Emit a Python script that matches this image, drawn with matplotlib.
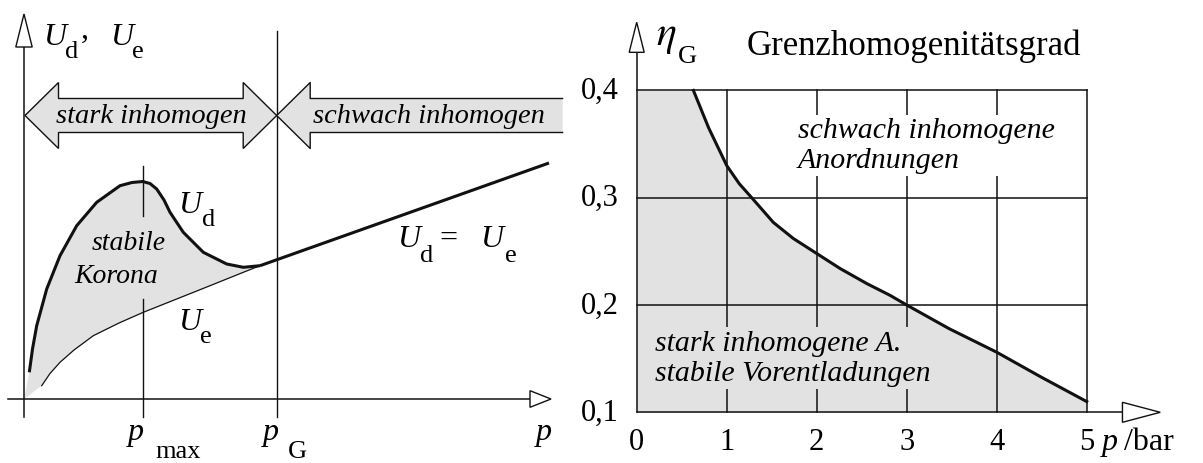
import numpy as np
import matplotlib.pyplot as plt
from matplotlib.patches import Polygon

plt.rcParams['font.family'] = ['Liberation Serif', 'DejaVu Serif']
plt.rcParams['mathtext.fontset'] = 'stix'

INK = '#111111'
SHADE = '#e2e2e2'

# linkes Bild: Durchschlagspannung U_d und Einsatzspannung U_e ueber p (schematisch)
P_MAX = 1.187
P_G = 2.527
ud_p = [0.053, 0.085, 0.127, 0.227, 0.36, 0.527, 0.727, 0.96, 1.08, 1.187, 1.26, 1.327,
        1.40, 1.46, 1.593, 1.793, 2.027, 2.193, 2.36]
ud_u = [0.267, 0.50, 0.733, 1.10, 1.433, 1.733, 1.967, 2.133, 2.165, 2.175, 2.155, 2.10,
        1.99, 1.867, 1.667, 1.467, 1.35, 1.317, 1.333]
ue_p = [0.177, 0.26, 0.36, 0.50, 0.693, 0.95, 1.193, 1.527, 1.86, 2.193, 2.36]
ue_u = [0.133, 0.255, 0.367, 0.49, 0.633, 0.76, 0.867, 1.0, 1.133, 1.267, 1.333]
gl_p = [2.36, 5.25]
gl_u = [1.333, 2.36]

# rechtes Bild: Grenzhomogenitaetsgrad ueber Druck
p_bar = [0.63, 0.80, 1.00, 1.14, 1.278, 1.518, 1.74, 2.00, 2.26, 2.556, 2.815, 3.00,
         3.47, 4.00, 4.49, 5.00]
eta_g = [0.400, 0.365, 0.330, 0.313, 0.300, 0.277, 0.262, 0.248, 0.234, 0.220, 0.209,
         0.200, 0.178, 0.156, 0.133, 0.110]
p_ticks = [0, 1, 2, 3, 4, 5]
eta_ticks = [0.1, 0.2, 0.3, 0.4]
eta_labels = ['0,1', '0,2', '0,3', '0,4']


def head(ax, tip, base, half):
    # offene Pfeilspitze, Breite in Pixeln
    t = ax.transData.transform(tip)
    b = ax.transData.transform(base)
    d = t - b
    n = np.array([-d[1], d[0]]) / np.hypot(*d) * half
    pts = ax.transData.inverted().transform([t, b + n, b - n])
    ax.add_patch(Polygon(pts, closed=True, fc='white', ec=INK, lw=1.0, zorder=6))


fig = plt.figure(figsize=(12.03, 4.64), dpi=100)
axL = fig.add_axes([0, 0, 570 / 1203, 1])
axR = fig.add_axes([570 / 1203, 0, 633 / 1203, 1])
axL.set_xlim(-0.24, 5.46)
axL.set_ylim(-0.64, 4.0)
axR.set_xlim(-0.741, 6.292)
axR.set_ylim(0.05275, 0.4852)
for ax in (axL, axR):
    ax.set_axis_off()

# ---- links ----
poly_x = [0] + ud_p + ue_p[::-1]
poly_y = [0] + ud_u + ue_u[::-1]
axL.fill(poly_x, poly_y, color=SHADE, lw=0, zorder=1)
axL.plot(ud_p, ud_u, color=INK, lw=2.2, solid_capstyle='butt', zorder=4)
axL.plot(ue_p, ue_u, color=INK, lw=0.9, zorder=4)
axL.plot(gl_p, gl_u, color=INK, lw=2.2, solid_capstyle='butt', zorder=4)

axL.plot([-0.163, 5.06], [0, 0], color=INK, lw=1.1, zorder=3)
axL.plot([0, 0], [-0.18, 3.52], color=INK, lw=1.1, zorder=3)
head(axL, (0, 3.85), (0, 3.52), 8.2)
head(axL, (5.27, 0), (5.06, 0), 8.3)
axL.plot([P_MAX, P_MAX], [2.333, 1.833], color=INK, lw=1.0, zorder=3)
axL.plot([P_MAX, P_MAX], [1.0, -0.18], color=INK, lw=1.0, zorder=3)
axL.plot([P_G, P_G], [3.683, -0.18], color=INK, lw=1.0, zorder=3)

# Bereichspfeile
yc, hh, sh, hl = 2.835, 0.33, 0.17, 0.335
xs = [0.01, 0.01 + hl, 0.01 + hl, P_G - hl, P_G - hl, P_G, P_G - hl, P_G - hl,
      0.01 + hl, 0.01 + hl]
ys = [yc, yc + hh, yc + sh, yc + sh, yc + hh, yc, yc - hh, yc - sh, yc - sh, yc - hh]
axL.fill(xs, ys, fc=SHADE, ec=INK, lw=1.0, zorder=5)
x_end = 5.386
axL.fill([P_G, P_G + hl, P_G + hl, x_end, x_end, P_G + hl, P_G + hl],
         [yc, yc + hh, yc + sh, yc + sh, yc - sh, yc - sh, yc - hh], fc=SHADE, lw=0, zorder=5)
axL.plot([x_end, P_G + hl, P_G + hl, P_G, P_G + hl, P_G + hl, x_end],
         [yc + sh, yc + sh, yc + hh, yc, yc - hh, yc - sh, yc - sh], color=INK, lw=1.0, zorder=5)
axL.text(P_G / 2 + 0.01, yc, 'stark inhomogen', style='italic', fontsize=20.5,
         ha='center', va='center', zorder=7)
axL.text(4.045, yc, 'schwach inhomogen', style='italic', fontsize=20.5,
         ha='center', va='center', zorder=7)

axL.text(1.043, 1.567, 'stabile', style='italic', fontsize=20, ha='center', va='center', zorder=5)
axL.text(0.927, 1.233, 'Korona', style='italic', fontsize=20, ha='center', va='center', zorder=5)

BIG, SUB = 23, 19
axL.text(0.19, 3.55, 'U', style='italic', fontsize=BIG, va='baseline')
axL.text(0.41, 3.42, 'd', fontsize=SUB, va='baseline')
axL.text(0.57, 3.62, ',', fontsize=BIG, va='baseline')
axL.text(0.86, 3.55, 'U', style='italic', fontsize=BIG, va='baseline')
axL.text(1.08, 3.42, 'e', fontsize=SUB, va='baseline')
axL.text(1.54, 1.87, 'U', style='italic', fontsize=BIG, va='baseline')
axL.text(1.777, 1.74, 'd', fontsize=SUB, va='baseline')
axL.text(1.54, 0.70, 'U', style='italic', fontsize=BIG, va='baseline')
axL.text(1.76, 0.57, 'e', fontsize=SUB, va='baseline')
axL.text(3.73, 1.533, 'U', style='italic', fontsize=BIG, va='baseline')
axL.text(3.96, 1.383, 'd', fontsize=SUB, va='baseline')
axL.text(4.15, 1.533, '=', fontsize=BIG, va='baseline')
axL.text(4.56, 1.533, 'U', style='italic', fontsize=BIG, va='baseline')
axL.text(4.81, 1.383, 'e', fontsize=SUB, va='baseline')
axL.text(1.04, -0.40, 'p', style='italic', fontsize=BIG, va='baseline')
axL.text(1.31, -0.58, 'max', fontsize=SUB, va='baseline')
axL.text(2.39, -0.40, 'p', style='italic', fontsize=BIG, va='baseline')
axL.text(2.64, -0.58, 'G', fontsize=SUB, va='baseline')
axL.text(5.12, -0.40, 'p', style='italic', fontsize=BIG, va='baseline')

# ---- rechts ----
fx = [0] + p_bar
fy = [eta_ticks[-1]] + eta_g
axR.fill_between(fx, fy, eta_ticks[0], color=SHADE, lw=0, zorder=1)
for p in p_ticks[1:]:
    axR.plot([p, p], [eta_ticks[0], eta_ticks[-1]], color=INK, lw=1.1, zorder=2)
for e in eta_ticks[1:]:
    axR.plot([p_ticks[0], p_ticks[-1]], [e, e], color=INK, lw=1.1, zorder=2)
axR.plot(p_bar, eta_g, color=INK, lw=2.2, zorder=4)
axR.plot([0, 0], [0.1, 0.4355], color=INK, lw=1.1, zorder=3)
axR.plot([0, 5.397], [0.1, 0.1], color=INK, lw=1.1, zorder=3)
head(axR, (0, 0.4635), (0, 0.4355), 7.5)
head(axR, (5.817, 0.1), (5.397, 0.1), 10)

for e, lab in zip(eta_ticks, eta_labels):
    axR.text(-0.196, e, lab, fontsize=22, ha='right', va='center')
for p in p_ticks:
    axR.text(p, 0.0725, str(p), fontsize=22, ha='center', va='center')
axR.text(5.17, 0.0725, 'p', style='italic', fontsize=23, va='center')
axR.text(5.417, 0.0725, '/bar', fontsize=23, va='center')

axR.text(0.22, 0.4432, r'$\eta$', fontsize=30, va='baseline')
axR.text(0.46, 0.4262, 'G', fontsize=19, va='baseline')
axR.text(1.22, 0.4337, 'Grenzhomogenitätsgrad', fontsize=25, va='baseline')

axR.text(1.79, 0.3487, 'schwach inhomogene\nAnordnungen', style='italic', fontsize=21.5,
         ha='left', va='center', linespacing=1.2, zorder=5,
         bbox=dict(fc='white', ec='none', pad=2))
axR.text(0.2, 0.1505, 'stark inhomogene A.\nstabile Vorentladungen', style='italic',
         fontsize=21.5, ha='left', va='center', linespacing=1.2, zorder=5,
         bbox=dict(fc=SHADE, ec='none', pad=2))

fig.savefig('out.png', dpi=100)
